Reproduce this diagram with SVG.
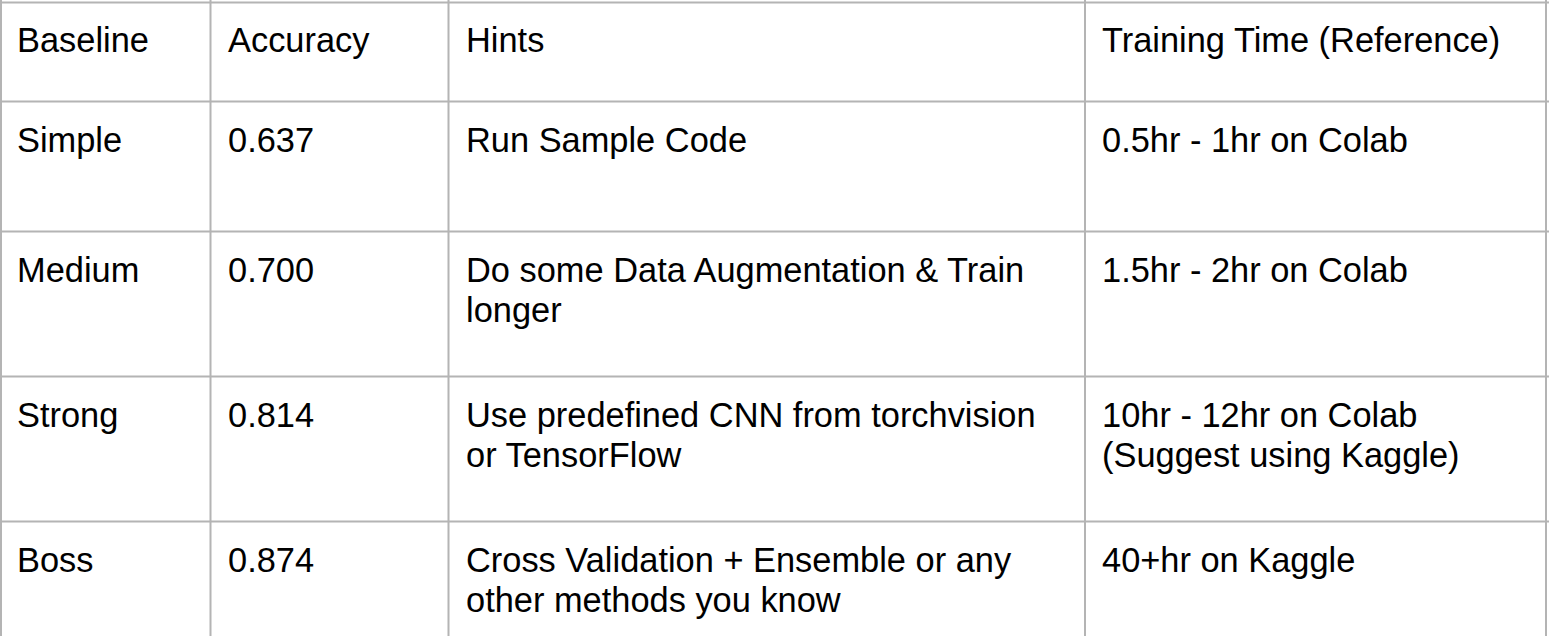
<svg xmlns="http://www.w3.org/2000/svg" width="1549" height="636" viewBox="0 0 1549 636">
<style>
.t{font-family:"Liberation Sans",Arial,sans-serif;font-size:34.4px;fill:#000}
.g{stroke:#b4b4b4;stroke-width:2;fill:none}
</style>
<rect width="1549" height="636" fill="#fff"/>
<g id="grid">
<line class="g" x1="0" y1="2.5" x2="1549" y2="2.5"/>
<line class="g" x1="0" y1="101.5" x2="1549" y2="101.5"/>
<line class="g" x1="0" y1="231.5" x2="1549" y2="231.5"/>
<line class="g" x1="0" y1="376.5" x2="1549" y2="376.5"/>
<line class="g" x1="0" y1="521.5" x2="1549" y2="521.5"/>
<line class="g" x1="1" y1="0" x2="1" y2="636"/>
<line class="g" x1="210.5" y1="0" x2="210.5" y2="636"/>
<line class="g" x1="448.5" y1="0" x2="448.5" y2="636"/>
<line class="g" x1="1085" y1="0" x2="1085" y2="636"/>
<line class="g" x1="1546" y1="0" x2="1546" y2="636"/>
</g>
<g id="header">
<text class="t" x="17" y="52">Baseline</text>
<text class="t" x="228" y="52">Accuracy</text>
<text class="t" x="466" y="52">Hints</text>
<text class="t" x="1102" y="52">Training Time (Reference)</text>
</g>
<g id="row-simple">
<text class="t" x="17" y="152">Simple</text>
<text class="t" x="228" y="152">0.637</text>
<text class="t" x="466" y="152">Run Sample Code</text>
<text class="t" x="1102" y="152">0.5hr - 1hr on Colab</text>
</g>
<g id="row-medium">
<text class="t" x="17" y="282">Medium</text>
<text class="t" x="228" y="282">0.700</text>
<text class="t" x="466" y="282">Do some Data Augmentation &amp; Train</text>
<text class="t" x="466" y="322">longer</text>
<text class="t" x="1102" y="282">1.5hr - 2hr on Colab</text>
</g>
<g id="row-strong">
<text class="t" x="17" y="427">Strong</text>
<text class="t" x="228" y="427">0.814</text>
<text class="t" x="466" y="427">Use predefined CNN from torchvision</text>
<text class="t" x="466" y="467">or TensorFlow</text>
<text class="t" x="1102" y="427">10hr - 12hr on Colab</text>
<text class="t" x="1102" y="467">(Suggest using Kaggle)</text>
</g>
<g id="row-boss">
<text class="t" x="17" y="572">Boss</text>
<text class="t" x="228" y="572">0.874</text>
<text class="t" x="466" y="572">Cross Validation + Ensemble or any</text>
<text class="t" x="466" y="612">other methods you know</text>
<text class="t" x="1102" y="572">40+hr on Kaggle</text>
</g>
</svg>
